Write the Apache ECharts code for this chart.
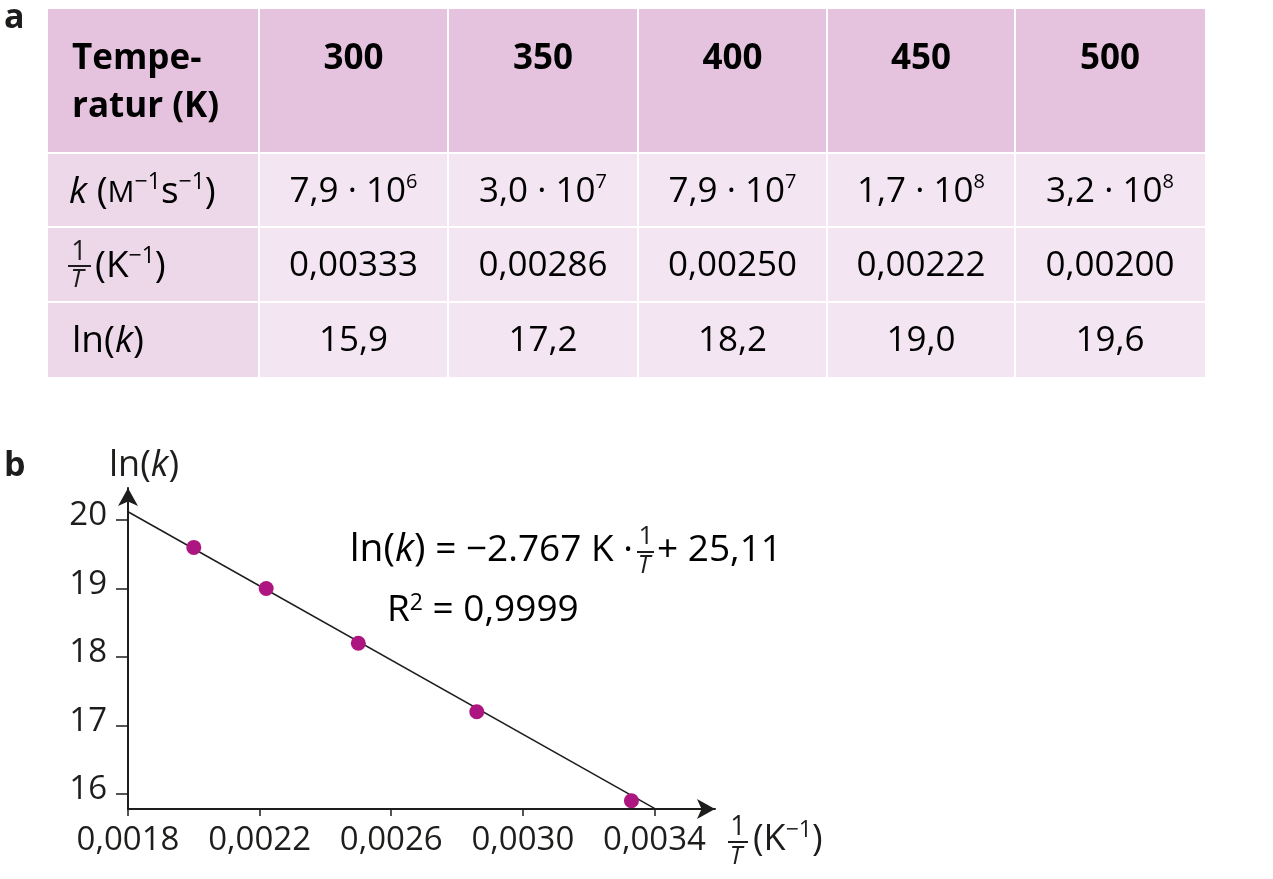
<!DOCTYPE html>
<html>
<head>
<meta charset="utf-8">
<title>ln(k) gegen 1/T</title>
<script src="https://cdn.jsdelivr.net/npm/echarts@6/dist/echarts.min.js"></script>
<style>
html, body { margin: 0; padding: 0; background: #ffffff; }
#main { width: 1273px; height: 879px; }
</style>
</head>
<body>
<div id="main"></div>
<script>
// Tabelle a
var temps = [300, 350, 400, 450, 500];
var kMant = ['7,9', '3,0', '7,9', '1,7', '3,2'];
var kExp = ['6', '7', '7', '8', '8'];
var invT = [0.00333, 0.00286, 0.00250, 0.00222, 0.00200];
var lnK = [15.9, 17.2, 18.2, 19.0, 19.6];

// Diagramm b
var xTicks = [0.0018, 0.0022, 0.0026, 0.0030, 0.0034];
var yTicks = [16, 17, 18, 19, 20];
var fitX = [0.0018, 0.0034];
var fitY = [20.12, 15.79];

var FONT = '"Open Sans", "Noto Sans", sans-serif';
var INK = '#1d1d1b';
var comma = function (v, d) { return v.toFixed(d).replace('.', ','); };

var chart = echarts.init(document.getElementById('main'));

// Tabellen-Raster
var colEdges = [48, 259, 448, 638, 827, 1015, 1205];
var rowEdges = [9, 153, 227, 302, 377];
var elements = [];

for (var r = 0; r < 4; r++) {
    for (var c = 0; c < 6; c++) {
        var x0 = colEdges[c] + (c > 0 ? 1 : 0);
        var x1 = colEdges[c + 1] - (c < 5 ? 1 : 0);
        var y0 = rowEdges[r] + (r > 0 ? 1 : 0);
        var y1 = rowEdges[r + 1] - (r < 3 ? 1 : 0);
        var fill = r === 0 ? '#e5c3de' : (c === 0 ? '#edd8ea' : '#f3e6f2');
        elements.push({
            type: 'rect', silent: true,
            shape: { x: x0, y: y0, width: x1 - x0, height: y1 - y0 },
            style: { fill: fill }
        });
    }
}

var rowMid = [59, 192, 266, 341];
var rich = {
    n: { fontFamily: FONT, fontSize: 35, color: INK, lineHeight: 40 },
    l: { fontFamily: FONT, fontSize: 37, color: INK, lineHeight: 42 },
    b: { fontFamily: FONT, fontSize: 35, fontWeight: 'bold', color: INK, lineHeight: 48 },
    i: { fontFamily: FONT, fontSize: 37, fontStyle: 'italic', color: INK, lineHeight: 42 },
    m: { fontFamily: FONT, fontSize: 30, color: INK, lineHeight: 42, verticalAlign: 'bottom', padding: [0, 0, 5, 0] },
    s: { fontFamily: FONT, fontSize: 20, color: INK, verticalAlign: 'top' },
    t: { fontFamily: FONT, fontSize: 23, color: INK, verticalAlign: 'top' }
};

function cellText(x, y, text, align) {
    elements.push({
        type: 'text', silent: true, x: x, y: y,
        style: { text: text, rich: rich, align: align || 'center', verticalAlign: 'middle' }
    });
}

// erste Spalte
cellText(72, 83, '{b|Tempe-}\n{b|ratur (K)}', 'left');
cellText(69, rowMid[1], '{i|k}{l| (}{m|M}{t|−1}{l|s}{t|−1}{l|)}', 'left');
elements.push({ type: 'text', silent: true, x: 79, y: 252,
    style: { text: '1', font: '27px ' + FONT, fill: INK, align: 'center', verticalAlign: 'middle' } });
elements.push({ type: 'line', silent: true, shape: { x1: 68, y1: 266, x2: 91, y2: 266 },
    style: { stroke: INK, lineWidth: 2 } });
elements.push({ type: 'text', silent: true, x: 77, y: 280,
    style: { text: 'T', font: 'italic 26px ' + FONT, fill: INK, align: 'center', verticalAlign: 'middle' } });
cellText(95, rowMid[2], '{l|(K}{t|−1}{l|)}', 'left');
cellText(72, rowMid[3], '{l|ln(}{i|k}{l|)}', 'left');

// Werte
for (var j = 0; j < temps.length; j++) {
    var cx = (colEdges[j + 1] + colEdges[j + 2]) / 2;
    cellText(cx, rowMid[0], '{b|' + temps[j] + '}');
    cellText(cx, rowMid[1], '{n|' + kMant[j] + ' · 10}{s|' + kExp[j] + '}');
    cellText(cx, rowMid[2], '{n|' + comma(invT[j], 5) + '}');
    cellText(cx, rowMid[3], '{n|' + comma(lnK[j], 1) + '}');
}

// Teilbild-Buchstaben
elements.push({ type: 'text', silent: true, x: 4, y: 18,
    style: { text: 'a', font: 'bold 34px ' + FONT, fill: INK, verticalAlign: 'middle' } });
elements.push({ type: 'text', silent: true, x: 4, y: 466,
    style: { text: 'b', font: 'bold 34px ' + FONT, fill: INK, verticalAlign: 'middle' } });

// Regressionsgleichung
var eqRich = {
    n: { fontFamily: FONT, fontSize: 37, color: INK },
    w: { fontFamily: FONT, fontSize: 39, color: INK },
    i: { fontFamily: FONT, fontSize: 39, fontStyle: 'italic', color: INK },
    s: { fontFamily: FONT, fontSize: 23, color: INK, verticalAlign: 'top' }
};
elements.push({ type: 'text', silent: true, x: 633, y: 550,
    style: { text: '{w|ln(}{i|k}{w|)}{n| = −2.767 K ·}', rich: eqRich, align: 'right', verticalAlign: 'middle' } });
elements.push({ type: 'text', silent: true, x: 646, y: 537,
    style: { text: '1', font: '26px ' + FONT, fill: INK, align: 'center', verticalAlign: 'middle' } });
elements.push({ type: 'line', silent: true, shape: { x1: 637, y1: 552, x2: 654, y2: 552 },
    style: { stroke: INK, lineWidth: 2 } });
elements.push({ type: 'text', silent: true, x: 644, y: 566,
    style: { text: 'T', font: 'italic 25px ' + FONT, fill: INK, align: 'center', verticalAlign: 'middle' } });
elements.push({ type: 'text', silent: true, x: 657, y: 550,
    style: { text: '{n|+ 25,11}', rich: eqRich, align: 'left', verticalAlign: 'middle' } });
elements.push({ type: 'text', silent: true, x: 387, y: 610,
    style: { text: '{n|R}{s|2}{n| = 0,9999}', rich: eqRich, align: 'left', verticalAlign: 'middle' } });

var xMin = 0.0018, xMax = 0.003584;
var yMin = 15.78, yMax = 20.467;

var option = {
    animation: false,
    backgroundColor: '#ffffff',
    grid: { left: 128, top: 488, width: 587, height: 321, containLabel: false },
    xAxis: {
        type: 'value', min: xMin, max: xMax,
        axisLine: { show: true, onZero: false, symbol: ['none', 'arrow'], symbolSize: [15, 18],
            lineStyle: { color: INK, width: 2 } },
        axisTick: { show: true, length: 7, customValues: xTicks, lineStyle: { color: INK, width: 1.5 } },
        axisLabel: { customValues: xTicks, margin: 15, fontFamily: FONT, fontSize: 33, color: INK,
            formatter: function (v) { return comma(v, 4); } },
        splitLine: { show: false },
        name: '{n|(K}{s|−1}{n|)}', nameLocation: 'end', nameGap: 38,
        nameTextStyle: { verticalAlign: 'top', padding: [10, 0, 0, 0], rich: {
            n: { fontFamily: FONT, fontSize: 36, color: INK, lineHeight: 42 },
            s: { fontFamily: FONT, fontSize: 23, color: INK, verticalAlign: 'top' }
        } }
    },
    yAxis: {
        type: 'value', min: yMin, max: yMax,
        axisLine: { show: true, onZero: false, symbol: ['none', 'arrow'], symbolSize: [15, 18],
            lineStyle: { color: INK, width: 2 } },
        axisTick: { show: true, length: 12, customValues: yTicks, lineStyle: { color: INK, width: 1.5 } },
        axisLabel: { customValues: yTicks, margin: 21, fontFamily: FONT, fontSize: 33, color: INK,
            verticalAlign: 'bottom', lineHeight: 8 },
        splitLine: { show: false },
        name: '{n|ln(}{i|k}{n|)}', nameLocation: 'end', nameGap: 4,
        nameTextStyle: { padding: [0, 0, 0, 32], rich: {
            n: { fontFamily: FONT, fontSize: 36, color: INK },
            i: { fontFamily: FONT, fontSize: 36, fontStyle: 'italic', color: INK }
        } }
    },
    series: [{
        name: 'Regressionsgerade',
        type: 'line',
        data: fitX.map(function (x, i) { return [x, fitY[i]]; }),
        symbol: 'none',
        clip: true,
        lineStyle: { color: INK, width: 1.5 }
    }, {
        name: 'ln(k)',
        type: 'scatter',
        data: invT.map(function (x, i) { return [x, lnK[i]]; }),
        symbolSize: 15,
        itemStyle: { color: '#ad1580', opacity: 1 },
        z: 3
    }],
    graphic: { elements: elements }
};

chart.setOption(option);

// Bruch 1/T vor der x-Achsen-Beschriftung
var axisEnd = chart.convertToPixel({ gridIndex: 0 }, [xMax, yMin]);
var fx = axisEnd[0] + 23, fy = axisEnd[1];
chart.setOption({ graphic: { elements: elements.concat([
    { type: 'text', silent: true, x: fx, y: fy + 18,
      style: { text: '1', font: '27px ' + FONT, fill: INK, align: 'center', verticalAlign: 'middle' } },
    { type: 'line', silent: true, shape: { x1: fx - 10, y1: fy + 33, x2: fx + 10, y2: fy + 33 },
      style: { stroke: INK, lineWidth: 2 } },
    { type: 'text', silent: true, x: fx - 2, y: fy + 48,
      style: { text: 'T', font: 'italic 25px ' + FONT, fill: INK, align: 'center', verticalAlign: 'middle' } }
]) } });

window.addEventListener('resize', function () {
    chart.resize();
});
</script>
</body>
</html>
